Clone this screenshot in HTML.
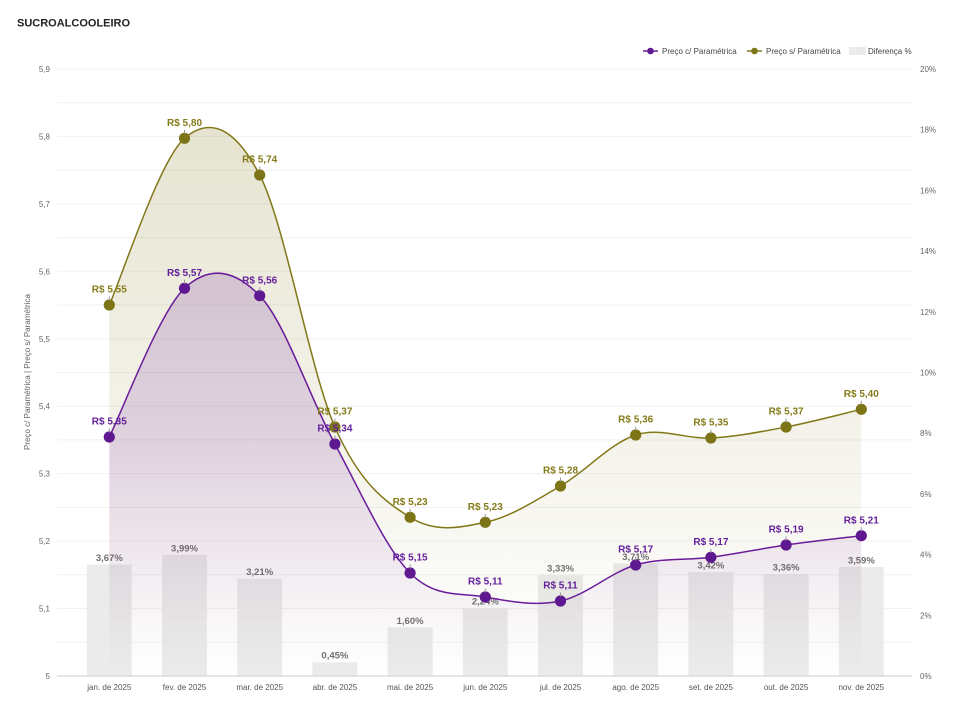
<!DOCTYPE html>
<html><head><meta charset="utf-8">
<style>
html,body{margin:0;padding:0;background:#fff;}
body{width:963px;height:715px;overflow:hidden;}
svg{display:block;font-family:"Liberation Sans",Arial,sans-serif;}
</style></head>
<body>
<svg width="963" height="715" viewBox="0 0 963 715" xmlns="http://www.w3.org/2000/svg">
<defs>
<linearGradient id="gO" gradientUnits="userSpaceOnUse" x1="0" y1="127" x2="0" y2="676">
<stop offset="0" stop-color="#827717" stop-opacity="0.2"/>
<stop offset="1" stop-color="#827717" stop-opacity="0.0"/>
</linearGradient>
<linearGradient id="gP" gradientUnits="userSpaceOnUse" x1="0" y1="272" x2="0" y2="676">
<stop offset="0" stop-color="#6a1b9a" stop-opacity="0.19"/>
<stop offset="0.45" stop-color="#6a1b9a" stop-opacity="0.15"/>
<stop offset="0.75" stop-color="#6a1b9a" stop-opacity="0.06"/>
<stop offset="0.9" stop-color="#6a1b9a" stop-opacity="0.015"/>
<stop offset="1" stop-color="#6a1b9a" stop-opacity="0"/>
</linearGradient>
</defs>
<rect width="963" height="715" fill="#fff"/>
<text x="17" y="26.7" font-size="11" font-weight="bold" fill="#222">SUCROALCOOLEIRO</text>

<!-- legend -->
<g font-size="8" fill="#444">
<line x1="643" y1="51" x2="658" y2="51" stroke="#6a1b9a" stroke-width="1.5"/>
<circle cx="650.5" cy="51" r="3.3" fill="#5e1890"/>
<text x="662" y="54">Preço c/ Paramétrica</text>
<line x1="747" y1="51" x2="762" y2="51" stroke="#827717" stroke-width="1.5"/>
<circle cx="754.5" cy="51" r="3.3" fill="#7d7418"/>
<text x="766" y="54">Preço s/ Paramétrica</text>
<rect x="849" y="47" width="17" height="8" fill="#ebebeb"/>
<text x="868" y="54">Diferença %</text>
</g>

<!-- gridlines -->
<g stroke="#f1f1f1" stroke-width="1">
<line x1="57" x2="912" y1="69" y2="69"/>
<line x1="57" x2="912" y1="102.7" y2="102.7"/>
<line x1="57" x2="912" y1="136.4" y2="136.4"/>
<line x1="57" x2="912" y1="170.2" y2="170.2"/>
<line x1="57" x2="912" y1="203.9" y2="203.9"/>
<line x1="57" x2="912" y1="237.6" y2="237.6"/>
<line x1="57" x2="912" y1="271.3" y2="271.3"/>
<line x1="57" x2="912" y1="305" y2="305"/>
<line x1="57" x2="912" y1="338.8" y2="338.8"/>
<line x1="57" x2="912" y1="372.5" y2="372.5"/>
<line x1="57" x2="912" y1="406.2" y2="406.2"/>
<line x1="57" x2="912" y1="439.9" y2="439.9"/>
<line x1="57" x2="912" y1="473.6" y2="473.6"/>
<line x1="57" x2="912" y1="507.4" y2="507.4"/>
<line x1="57" x2="912" y1="541.1" y2="541.1"/>
<line x1="57" x2="912" y1="574.8" y2="574.8"/>
<line x1="57" x2="912" y1="608.5" y2="608.5"/>
<line x1="57" x2="912" y1="642.2" y2="642.2"/>
</g>

<!-- left axis labels -->
<g font-size="8" fill="#666" text-anchor="end">
<text x="50" y="72">5,9</text>
<text x="50" y="139.4">5,8</text>
<text x="50" y="206.9">5,7</text>
<text x="50" y="274.3">5,6</text>
<text x="50" y="341.8">5,5</text>
<text x="50" y="409.2">5,4</text>
<text x="50" y="476.6">5,3</text>
<text x="50" y="544">5,2</text>
<text x="50" y="611.5">5,1</text>
<text x="50" y="679">5</text>
</g>
<!-- right axis labels -->
<g font-size="8" fill="#666">
<text x="920" y="72">20%</text>
<text x="920" y="132.7">18%</text>
<text x="920" y="193.4">16%</text>
<text x="920" y="254.1">14%</text>
<text x="920" y="314.8">12%</text>
<text x="920" y="375.5">10%</text>
<text x="920" y="436.2">8%</text>
<text x="920" y="496.9">6%</text>
<text x="920" y="557.6">4%</text>
<text x="920" y="618.3">2%</text>
<text x="920" y="679">0%</text>
</g>
<text transform="translate(30,372) rotate(-90)" text-anchor="middle" font-size="8" fill="#666">Preço c/ Paramétrica | Preço s/ Paramétrica</text>

<!-- bars -->
<g fill="#ebebeb">
<rect x="86.8" y="564.6" width="45" height="111.4"/>
<rect x="162" y="554.9" width="45" height="121.1"/>
<rect x="237.2" y="578.6" width="45" height="97.4"/>
<rect x="312.4" y="662.3" width="45" height="13.7"/>
<rect x="387.6" y="627.4" width="45" height="48.6"/>
<rect x="462.8" y="608" width="45" height="68"/>
<rect x="538" y="574.9" width="45" height="101.1"/>
<rect x="613.2" y="563.4" width="45" height="112.6"/>
<rect x="688.4" y="572.2" width="45" height="103.8"/>
<rect x="763.6" y="574" width="45" height="102"/>
<rect x="838.8" y="567" width="45" height="109"/>
</g>
<line x1="57" x2="912" y1="676" y2="676" stroke="#cccccc" stroke-width="1"/>

<!-- bar labels -->
<g font-size="9.5" font-weight="bold" fill="#707070" text-anchor="middle">
<text x="109.3" y="561">3,67%</text>
<text x="184.5" y="551.3">3,99%</text>
<text x="259.7" y="575">3,21%</text>
<text x="334.9" y="658.7">0,45%</text>
<text x="410.1" y="623.8">1,60%</text>
<text x="485.3" y="604.4">2,24%</text>
<text x="560.5" y="571.3">3,33%</text>
<text x="635.7" y="559.8">3,71%</text>
<text x="710.9" y="568.6">3,42%</text>
<text x="786.1" y="570.4">3,36%</text>
<text x="861.3" y="563.4">3,59%</text>
</g>

<!-- areas -->
<path fill="url(#gO)" d="M109.3,305 C121.83,277.22 159.43,159.97 184.5,138.3 C209.57,116.63 234.63,126.88 259.7,175 C284.77,223.12 309.83,369.95 334.9,427 C359.97,484.05 385.03,501.42 410.1,517.3 C435.17,533.18 460.23,527.52 485.3,522.3 C510.37,517.08 535.43,500.55 560.5,486 C585.57,471.45 610.63,443 635.7,435 C660.77,427 685.83,439.33 710.9,438 C735.97,436.67 761.03,431.78 786.1,427 C811.17,422.22 848.77,412.25 861.3,409.3 L861.3,676 L109.3,676 Z"/>
<path fill="url(#gP)" d="M109.3,437 C121.83,412.22 159.43,311.85 184.5,288.3 C209.57,264.75 234.63,269.75 259.7,295.7 C284.77,321.65 309.83,397.78 334.9,444 C359.97,490.22 385.03,547.5 410.1,573 C435.17,598.5 460.23,592.33 485.3,597 C510.37,601.67 535.43,606.33 560.5,601 C585.57,595.67 610.63,572.28 635.7,565 C660.77,557.72 685.83,560.63 710.9,557.3 C735.97,553.97 761.03,548.6 786.1,545 C811.17,541.4 848.77,537.25 861.3,535.7 L861.3,676 L109.3,676 Z"/>

<!-- lines -->
<path fill="none" stroke="#827717" stroke-width="1.5" d="M109.3,305 C121.83,277.22 159.43,159.97 184.5,138.3 C209.57,116.63 234.63,126.88 259.7,175 C284.77,223.12 309.83,369.95 334.9,427 C359.97,484.05 385.03,501.42 410.1,517.3 C435.17,533.18 460.23,527.52 485.3,522.3 C510.37,517.08 535.43,500.55 560.5,486 C585.57,471.45 610.63,443 635.7,435 C660.77,427 685.83,439.33 710.9,438 C735.97,436.67 761.03,431.78 786.1,427 C811.17,422.22 848.77,412.25 861.3,409.3"/>
<path fill="none" stroke="#6a1b9a" stroke-width="1.5" d="M109.3,437 C121.83,412.22 159.43,311.85 184.5,288.3 C209.57,264.75 234.63,269.75 259.7,295.7 C284.77,321.65 309.83,397.78 334.9,444 C359.97,490.22 385.03,547.5 410.1,573 C435.17,598.5 460.23,592.33 485.3,597 C510.37,601.67 535.43,606.33 560.5,601 C585.57,595.67 610.63,572.28 635.7,565 C660.77,557.72 685.83,560.63 710.9,557.3 C735.97,553.97 761.03,548.6 786.1,545 C811.17,541.4 848.77,537.25 861.3,535.7"/>

<!-- olive points -->
<g fill="#7d7418">
<circle cx="109.3" cy="305" r="5.6"/>
<circle cx="184.5" cy="138.3" r="5.6"/>
<circle cx="259.7" cy="175" r="5.6"/>
<circle cx="334.9" cy="427" r="5.6"/>
<circle cx="410.1" cy="517.3" r="5.6"/>
<circle cx="485.3" cy="522.3" r="5.6"/>
<circle cx="560.5" cy="486" r="5.6"/>
<circle cx="635.7" cy="435" r="5.6"/>
<circle cx="710.9" cy="438" r="5.6"/>
<circle cx="786.1" cy="427" r="5.6"/>
<circle cx="861.3" cy="409.3" r="5.6"/>
</g>
<!-- purple points -->
<g fill="#5e1890">
<circle cx="109.3" cy="437" r="5.6"/>
<circle cx="184.5" cy="288.3" r="5.6"/>
<circle cx="259.7" cy="295.7" r="5.6"/>
<circle cx="334.9" cy="444" r="5.6"/>
<circle cx="410.1" cy="573" r="5.6"/>
<circle cx="485.3" cy="597" r="5.6"/>
<circle cx="560.5" cy="601" r="5.6"/>
<circle cx="635.7" cy="565" r="5.6"/>
<circle cx="710.9" cy="557.3" r="5.6"/>
<circle cx="786.1" cy="545" r="5.6"/>
<circle cx="861.3" cy="535.7" r="5.6"/>
</g>

<!-- label pointer ticks -->
<g stroke="#999" stroke-width="1">
<line x1="109.3" x2="109.3" y1="296.5" y2="300.5"/>
<line x1="184.5" x2="184.5" y1="129.8" y2="133.8"/>
<line x1="259.7" x2="259.7" y1="166.5" y2="170.5"/>
<line x1="334.9" x2="334.9" y1="418.5" y2="422.5"/>
<line x1="410.1" x2="410.1" y1="508.8" y2="512.8"/>
<line x1="485.3" x2="485.3" y1="513.8" y2="517.8"/>
<line x1="560.5" x2="560.5" y1="477.5" y2="481.5"/>
<line x1="635.7" x2="635.7" y1="426.5" y2="430.5"/>
<line x1="710.9" x2="710.9" y1="429.5" y2="433.5"/>
<line x1="786.1" x2="786.1" y1="418.5" y2="422.5"/>
<line x1="861.3" x2="861.3" y1="400.8" y2="404.8"/>
<line x1="109.3" x2="109.3" y1="428.5" y2="432.5"/>
<line x1="184.5" x2="184.5" y1="279.8" y2="283.8"/>
<line x1="259.7" x2="259.7" y1="287.2" y2="291.2"/>
<line x1="334.9" x2="334.9" y1="435.5" y2="439.5"/>
<line x1="410.1" x2="410.1" y1="564.5" y2="568.5"/>
<line x1="485.3" x2="485.3" y1="588.5" y2="592.5"/>
<line x1="560.5" x2="560.5" y1="592.5" y2="596.5"/>
<line x1="635.7" x2="635.7" y1="556.5" y2="560.5"/>
<line x1="710.9" x2="710.9" y1="548.8" y2="552.8"/>
<line x1="786.1" x2="786.1" y1="536.5" y2="540.5"/>
<line x1="861.3" x2="861.3" y1="527.2" y2="531.2"/>
</g>

<!-- olive labels -->
<g font-size="10" font-weight="bold" fill="#857b19" text-anchor="middle">
<text x="109.3" y="292.7">R$ 5,55</text>
<text x="184.5" y="126">R$ 5,80</text>
<text x="259.7" y="162.7">R$ 5,74</text>
<text x="334.9" y="414.7">R$ 5,37</text>
<text x="410.1" y="505">R$ 5,23</text>
<text x="485.3" y="510">R$ 5,23</text>
<text x="560.5" y="473.7">R$ 5,28</text>
<text x="635.7" y="422.7">R$ 5,36</text>
<text x="710.9" y="425.7">R$ 5,35</text>
<text x="786.1" y="414.7">R$ 5,37</text>
<text x="861.3" y="397">R$ 5,40</text>
</g>
<!-- purple labels -->
<g font-size="10" font-weight="bold" fill="#63209a" text-anchor="middle">
<text x="109.3" y="424.7">R$ 5,35</text>
<text x="184.5" y="276">R$ 5,57</text>
<text x="259.7" y="283.4">R$ 5,56</text>
<text x="334.9" y="431.7">R$ 5,34</text>
<text x="410.1" y="560.7">R$ 5,15</text>
<text x="485.3" y="584.7">R$ 5,11</text>
<text x="560.5" y="588.7">R$ 5,11</text>
<text x="635.7" y="552.7">R$ 5,17</text>
<text x="710.9" y="545">R$ 5,17</text>
<text x="786.1" y="532.7">R$ 5,19</text>
<text x="861.3" y="523.4">R$ 5,21</text>
</g>

<!-- x labels -->
<g font-size="8" fill="#555" text-anchor="middle">
<text x="109.3" y="690">jan. de 2025</text>
<text x="184.5" y="690">fev. de 2025</text>
<text x="259.7" y="690">mar. de 2025</text>
<text x="334.9" y="690">abr. de 2025</text>
<text x="410.1" y="690">mai. de 2025</text>
<text x="485.3" y="690">jun. de 2025</text>
<text x="560.5" y="690">jul. de 2025</text>
<text x="635.7" y="690">ago. de 2025</text>
<text x="710.9" y="690">set. de 2025</text>
<text x="786.1" y="690">out. de 2025</text>
<text x="861.3" y="690">nov. de 2025</text>
</g>
</svg>
</body></html>
